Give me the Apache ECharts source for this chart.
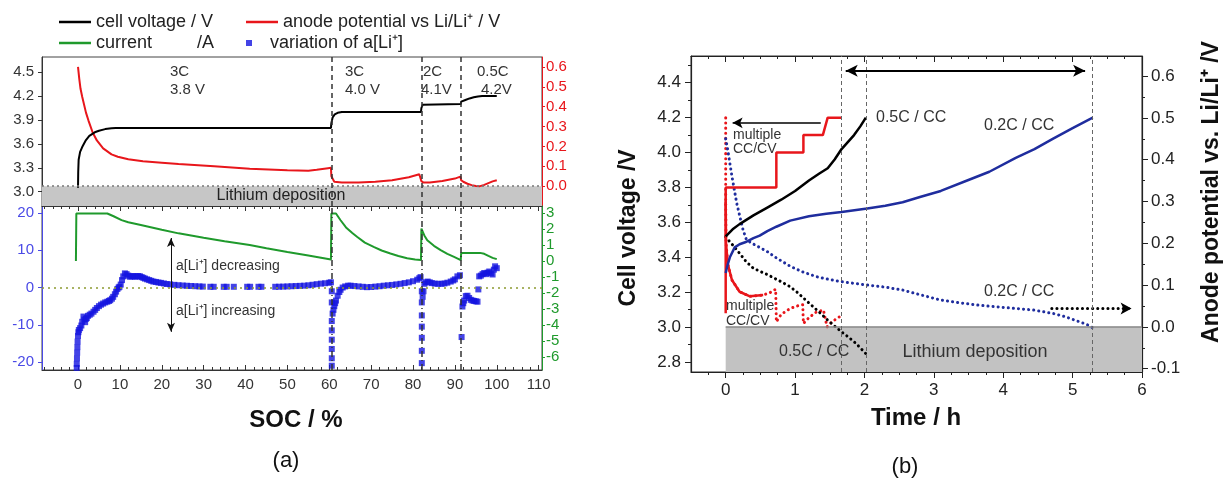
<!DOCTYPE html>
<html><head><meta charset="utf-8">
<script src="https://cdn.jsdelivr.net/npm/echarts@6/dist/echarts.min.js"></script>
<style>html,body{margin:0;padding:0;background:#fff}#c{width:1230px;height:479px}</style>
</head><body><div id="c"></div>
<script>
// ---------------- Panel (a) data ----------------
const socTicks = [0, 10, 20, 30, 40, 50, 60, 70, 80, 90, 100, 110];
const voltTicksA = [3.0, 3.3, 3.6, 3.9, 4.2, 4.5];
const anodeTicksA = [0.0, 0.1, 0.2, 0.3, 0.4, 0.5, 0.6];
const aLiTicks = [-20, -10, 0, 10, 20];
const currentTicks = [-6, -5, -4, -3, -2, -1, 0, 1, 2, 3];
const stageBoundsSoc = [60.5, 82, 91.5];

const cellSoc  = [0, 0.05, 0.15, 0.5, 1, 1.8, 2.7, 4, 5, 6.5, 8, 9, 60.4, 60.5, 60.8, 61.3, 62, 63, 81.9, 82, 82.3, 82.6, 91.4, 91.5, 92.5, 93.5, 94.5, 95.5, 96.5, 100];
const cellVolt = [3.05, 3.25, 3.4, 3.5, 3.56, 3.64, 3.7, 3.745, 3.765, 3.785, 3.797, 3.8, 3.8, 3.86, 3.93, 3.97, 3.99, 4.0, 4.0, 4.05, 4.09, 4.1, 4.1, 4.13, 4.15, 4.17, 4.185, 4.195, 4.2, 4.2];

const anodeSoc = [0, 0.3, 0.6, 1, 1.9, 2.5, 3.5, 4.5, 6, 8, 9.5, 12, 15.5, 20, 24, 32.5, 41, 50, 55, 57, 59.7, 60.4, 60.5, 61.2, 63, 67, 71, 75, 79, 81.5, 81.8, 82, 82.5, 84, 87, 90, 91.3, 91.5, 92, 93, 94, 95, 96, 97, 98, 99, 100];
const anodePot = [0.6, 0.54, 0.49, 0.45, 0.37, 0.33, 0.27, 0.23, 0.19, 0.16, 0.148, 0.135, 0.125, 0.118, 0.112, 0.1, 0.088, 0.08, 0.078, 0.082, 0.09, 0.092, 0.05, 0.022, 0.018, 0.018, 0.022, 0.03, 0.045, 0.06, 0.062, 0.025, 0.018, 0.018, 0.026, 0.038, 0.048, 0.03, 0.022, 0.012, 0.005, 0.001, 0.0, 0.006, 0.015, 0.024, 0.03];

const currSoc = [-0.5, -0.4, 7, 8.5, 10.4, 12, 15, 20, 24, 30, 35, 41, 45, 50, 55, 60.4, 60.5, 61.6, 62.7, 64, 65.5, 66.7, 68.5, 70.6, 72.5, 74.6, 76.5, 78.6, 80.5, 81.9, 82.0, 82.7, 83.4, 85, 86.6, 88.2, 89.8, 91.4, 91.5, 96, 97, 98, 99, 100];
const currA   = [0, 2.97, 2.97, 2.8, 2.56, 2.42, 2.25, 1.96, 1.73, 1.46, 1.24, 1.0, 0.8, 0.57, 0.35, 0.1, 2.97, 2.97, 2.55, 2.1, 1.75, 1.5, 1.15, 0.88, 0.66, 0.47, 0.32, 0.18, 0.1, 0.06, 2.03, 1.6, 1.3, 0.95, 0.68, 0.45, 0.26, 0.06, 0.51, 0.51, 0.45, 0.32, 0.2, 0.12];

const aLiSoc = [
  -0.3, -0.3, -0.25, -0.2, -0.15, -0.1, 0, 0.1, 0.2, 0.5, 0.8, 1.0, 1.3, 1.5, 1.7, 1.9, 2.1, 2.4, 2.8, 3.2, 3.7, 4.1, 4.5, 5.0, 5.5, 6.0, 6.5, 7.0, 7.4, 7.7, 8.1, 8.4, 8.8, 9.1, 9.4, 9.7, 9.9, 10.2, 10.5, 10.8,
  11.2, 11.6, 12.0, 12.4, 12.8, 13.2, 13.6, 14.0, 14.4, 14.8, 15.2, 15.6, 16.0, 16.5, 17.0, 17.5, 18.0, 18.6, 19.2, 19.8, 20.5, 21.2, 22.0, 23.0, 24.0, 25.0, 26.0, 27.0, 28.0, 29.0, 29.8,
  31.6, 32.4, 34.8, 35.5, 37.2, 40.4, 41.1, 43.1, 43.8,
  47.1, 48, 49, 50, 51, 52, 53, 54, 55, 56, 57, 58, 59, 60, 60.4,
  60.6, 60.6, 60.6, 60.6, 60.6, 60.6, 60.6, 60.6,
  60.8, 61.0, 61.2, 61.4, 61.6, 62.0, 62.4, 62.7, 63.2, 63.8, 64.5, 65.1, 66, 67, 68, 69, 70, 71, 72, 73, 74, 75, 76, 77, 78, 79, 80, 81, 81.5, 81.8,
  82.1, 82.1, 82.1, 82.1, 82.1, 82.1, 82.1,
  82.3, 82.5, 82.7, 83.0, 83.5, 84, 84.5, 85.2, 86, 86.8, 87.5, 88.2, 89, 89.6, 90, 90.6, 91.2,
  91.6, 91.8, 92.0, 92.2, 92.6, 93.0, 93.4, 93.8, 94.2, 94.6, 95.0, 95.4, 95.6, 95.8, 96.2, 96.6, 97.0, 97.4, 97.8, 98.2, 98.6, 99.0, 99.3, 99.6, 100
];
const aLiVar = [
  -21.6, -20.5, -19, -17.5, -16, -14.5, -13, -12, -11.4, -10.9, -10.2, -9.2, -7.8, -8.6, -9.3, -8.4, -8.2, -7.6, -7.3, -7.0, -6.5, -6.0, -5.5, -5.0, -4.6, -4.3, -4.0, -3.8, -3.6, -3.4, -3.0, -2.5, -1.8, -1.1, -0.4, 0, 0.2, 0.8, 2.0, 3.0,
  3.8, 3.6, 3.2, 2.9, 3.0, 3.1, 2.9, 3.0, 3.1, 3.0, 2.8, 2.6, 2.4, 2.2, 2.0, 1.8, 1.6, 1.5, 1.35, 1.25, 1.1, 0.95, 0.85, 0.72, 0.62, 0.55, 0.48, 0.42, 0.36, 0.3, 0.25,
  0.2, 0.2, 0.2, 0.2, 0.2, 0.2, 0.2, 0.2, 0.2,
  0.2, 0.22, 0.25, 0.3, 0.35, 0.4, 0.45, 0.5, 0.6, 0.75, 0.9, 1.05, 1.15, 1.3, 1.4,
  -1, -4, -9, -11.5, -14, -16.5, -19, -21,
  -7, -6, -5, -4.2, -3.5, -2.2, -1.2, -0.6, 0, 0.3, 0.5, 0.5, 0.4, 0.3, 0.2, 0.1, 0.15, 0.25, 0.35, 0.5, 0.6, 0.7, 0.85, 1.0, 1.2, 1.4, 1.7, 2.1, 2.5, 2.8,
  -1, -4, -7.5, -10.5, -13.5, -17, -20.3,
  -2.5, -1, 1.0, 1.4, 1.6, 1.4, 1.2, 1.05, 1.0, 1.0, 1.1, 1.3, 1.6, 1.9, 2.2, 3.0, 3.3,
  -13.3, -5.1, -4.2, -3.5, -2.3, -2.2, -2.8, -3.3, -3.5, -3.6, -3.7, -3.8, -0.5, 3.0, 3.2, 3.6, 3.9, 3.6, 4.0, 4.3, 3.8, 3.5, 4.8, 5.7, 5.2
];

// ---------------- Panel (b) data ----------------
const timeTicks = [0, 1, 2, 3, 4, 5, 6];
const voltTicksB = [2.8, 3.0, 3.2, 3.4, 3.6, 3.8, 4.0, 4.2, 4.4];
const anodeTicksB = [-0.1, 0.0, 0.1, 0.2, 0.3, 0.4, 0.5, 0.6];
const markTimesB = [1.67, 2.03, 5.29];

const stepT = [0, 0, 0.73, 0.73, 1.12, 1.12, 1.40, 1.47, 1.67];
const stepV = [3.08, 3.8, 3.8, 4.0, 4.0, 4.1, 4.1, 4.2, 4.2];

const cc05T = [0, 0.1, 0.2, 0.4, 0.6, 0.8, 1.0, 1.2, 1.35, 1.47, 1.57, 1.67, 1.76, 1.85, 1.94, 2.02];
const cc05V = [3.52, 3.56, 3.59, 3.64, 3.685, 3.73, 3.78, 3.84, 3.88, 3.91, 3.96, 4.02, 4.06, 4.1, 4.15, 4.2];

const cc02T = [0, 0.03, 0.06, 0.13, 0.2, 0.28, 0.4, 0.49, 0.6, 0.73, 0.93, 1.2, 1.45, 1.67, 2.04, 2.3, 2.55, 2.8, 3.1, 3.48, 3.8, 4.18, 4.45, 4.72, 5.0, 5.29];
const cc02V = [3.31, 3.36, 3.40, 3.457, 3.475, 3.486, 3.51, 3.524, 3.55, 3.575, 3.61, 3.635, 3.65, 3.66, 3.68, 3.695, 3.715, 3.745, 3.78, 3.84, 3.89, 3.97, 4.02, 4.08, 4.14, 4.2];

const anodeStepT = [0, 0, 0.005, 0.03, 0.09, 0.2, 0.35, 0.54, 0.64, 0.72, 0.73, 0.8, 0.93, 1.03, 1.11, 1.12, 1.2, 1.31, 1.41, 1.46, 1.52, 1.6, 1.65];
const anodeStepV = [0.5, 0.3, 0.2, 0.15, 0.112, 0.084, 0.073, 0.076, 0.082, 0.09, 0.012, 0.03, 0.044, 0.05, 0.053, 0.008, 0.022, 0.036, 0.04, 0.0, 0.01, 0.02, 0.025];

const anode05T = [0, 0.1, 0.2, 0.3, 0.4, 0.6, 0.8, 0.93, 1.05, 1.2, 1.35, 1.47, 1.57, 1.67, 1.78, 1.88, 1.95, 2.02];
const anode05V = [0.215, 0.196, 0.176, 0.155, 0.14, 0.125, 0.108, 0.096, 0.08, 0.057, 0.035, 0.016, 0.002, -0.012, -0.026, -0.04, -0.052, -0.064];

const anode02T = [0, 0.03, 0.09, 0.16, 0.25, 0.3, 0.4, 0.49, 0.6, 0.73, 0.93, 1.1, 1.31, 1.5, 1.67, 2.04, 2.3, 2.55, 2.8, 3.1, 3.4, 3.64, 3.9, 4.18, 4.45, 4.72, 4.9, 5.05, 5.2, 5.29];
const anode02V = [0.45, 0.423, 0.36, 0.295, 0.232, 0.208, 0.198, 0.19, 0.18, 0.165, 0.145, 0.132, 0.12, 0.113, 0.108, 0.1, 0.095, 0.088, 0.077, 0.064, 0.057, 0.052, 0.048, 0.044, 0.04, 0.032, 0.024, 0.015, 0.006, -0.002];

// ---------------- axis ranges ----------------
const aX = [-8.6, 110.8], aV = [2.82, 4.69], aR = [-0.1, 0.65], aB = [-22.15, 21.9], aG = [-6.81, 3.44];
const bX = [-0.5, 6.0], bV = [2.743, 4.553], bR = [-0.108, 0.648];

const zip = (xs, ys) => xs.map((x, i) => [x, ys[i]]);
const FONT = 'Liberation Sans, Arial, sans-serif';
const RED = '#e8161b', GREEN = '#1f9a2c', BLUE = '#1414e0', NAVY = '#1f2d9e';

const chart = echarts.init(document.getElementById('c'), null, {renderer: 'canvas'});

function valAxis(o) {
  return Object.assign({type: 'value', scale: true, splitLine: {show: false}, axisLine: {show: true, onZero: false}}, o);
}
const f1 = v => v.toFixed(1);
const f0 = v => String(Math.round(v));

const legendBase = {padding: 0, itemWidth: 32, itemHeight: 2.5, selectedMode: false, icon: 'rect',
  textStyle: {fontSize: 18, color: '#222', fontFamily: FONT}};

function txt(x, y, text, size, opts) {
  opts = opts || {};
  return {type: 'text', x: x, y: y, rotation: opts.rot || 0, z: 100,
    style: {text: text, fill: opts.color || '#222', font: (opts.bold ? 'bold ' : '') + size + 'px ' + FONT,
      textAlign: opts.align || 'left', textVerticalAlign: 'middle', align: opts.align || 'left', verticalAlign: 'middle'}};
}

const vDash = (vals, color, dash, width) => ({silent: true, symbol: 'none', label: {show: false},
  lineStyle: {color: color, type: dash, width: width}, data: vals.map(v => ({xAxis: v}))});

const option = {
  animation: false,
  backgroundColor: '#fff',
  legend: [
    Object.assign({}, legendBase, {left: 59, top: 13, data: ['cell voltage / V']}),
    Object.assign({}, legendBase, {left: 246, top: 13, data: ['anode potential vs Li/Li\u207A / V']}),
    Object.assign({}, legendBase, {left: 59, top: 34, data: ['current         /A']}),
    Object.assign({}, legendBase, {left: 246, top: 34, itemHeight: 6, icon: 'path://M0,0h10v10h-10z',
      data: ['variation of a[Li\u207A]']})
  ],
  grid: [
    {left: 42, top: 57, width: 500, height: 149, show: true, borderColor: '#444', borderWidth: 1, backgroundColor: 'transparent'},
    {left: 42, top: 206, width: 500, height: 164, show: true, borderColor: '#444', borderWidth: 1, backgroundColor: 'transparent'},
    {left: 691, top: 56, width: 451, height: 316, show: true, borderColor: '#333', borderWidth: 1, backgroundColor: 'transparent'}
  ],
  xAxis: [
    valAxis({gridIndex: 0, min: aX[0], max: aX[1], axisLine: {show: false, onZero: false}, axisTick: {show: false}, axisLabel: {show: false}}),
    valAxis({gridIndex: 1, min: aX[0], max: aX[1], position: 'bottom', splitNumber: 12,
      axisLine: {show: true, onZero: false, lineStyle: {color: '#333'}},
      axisTick: {show: true, inside: true, length: 5, customValues: socTicks, lineStyle: {color: '#333'}},
      minorTick: {show: true, splitNumber: 5, length: 3, lineStyle: {color: '#333'}},
      axisLabel: {customValues: socTicks, formatter: f0, fontSize: 15, color: '#333', margin: 7, fontFamily: FONT}}),
    valAxis({gridIndex: 1, min: aX[0], max: aX[1], position: 'top', splitNumber: 12,
      axisLine: {show: true, onZero: false, lineStyle: {color: '#333'}},
      axisTick: {show: true, inside: true, length: 5, customValues: socTicks, lineStyle: {color: '#333'}},
      minorTick: {show: true, splitNumber: 5, length: 3, lineStyle: {color: '#333'}},
      axisLabel: {show: false}}),
    valAxis({gridIndex: 2, min: bX[0], max: bX[1], position: 'bottom', splitNumber: 7,
      axisLine: {show: true, onZero: false, lineStyle: {color: '#222', width: 1.2}},
      axisTick: {show: true, inside: false, length: 6, customValues: timeTicks, lineStyle: {color: '#222'}},
      minorTick: {show: true, splitNumber: 4, length: 3, lineStyle: {color: '#222'}},
      axisLabel: {customValues: timeTicks, formatter: f0, fontSize: 17, color: '#222', margin: 10, fontFamily: FONT}}),
    valAxis({gridIndex: 2, min: bX[0], max: bX[1], position: 'top', splitNumber: 7,
      axisLine: {show: true, onZero: false, lineStyle: {color: '#222', width: 1.2}},
      axisTick: {show: true, inside: true, length: 6, customValues: timeTicks, lineStyle: {color: '#222'}},
      minorTick: {show: true, splitNumber: 4, length: 3, lineStyle: {color: '#222'}},
      axisLabel: {show: false}})
  ],
  yAxis: [
    valAxis({gridIndex: 0, min: aV[0], max: aV[1], position: 'left',
      axisLine: {show: true, onZero: false, lineStyle: {color: '#333'}},
      axisTick: {show: true, length: 4, customValues: voltTicksA, lineStyle: {color: '#333'}},
      axisLabel: {customValues: voltTicksA, formatter: f1, fontSize: 15, color: '#333', margin: 8, fontFamily: FONT}}),
    valAxis({gridIndex: 0, min: aR[0], max: aR[1], position: 'right',
      axisLine: {show: true, onZero: false, lineStyle: {color: RED}},
      axisTick: {show: true, length: 3, customValues: anodeTicksA, lineStyle: {color: RED}},
      axisLabel: {customValues: anodeTicksA, formatter: f1, fontSize: 15, color: RED, margin: 4, fontFamily: FONT}}),
    valAxis({gridIndex: 1, min: aB[0], max: aB[1], position: 'left',
      axisLine: {show: true, onZero: false, lineStyle: {color: '#4a4ae6'}},
      axisTick: {show: true, length: 4, customValues: aLiTicks, lineStyle: {color: '#4a4ae6'}},
      axisLabel: {customValues: aLiTicks, formatter: f0, fontSize: 15, color: '#4a4ae6', margin: 8, fontFamily: FONT}}),
    valAxis({gridIndex: 1, min: aG[0], max: aG[1], position: 'right',
      axisLine: {show: true, onZero: false, lineStyle: {color: GREEN}},
      axisTick: {show: true, length: 3, customValues: currentTicks, lineStyle: {color: GREEN}},
      axisLabel: {customValues: currentTicks, formatter: f0, fontSize: 15, color: GREEN, margin: 4, fontFamily: FONT, lineHeight: 15}}),
    valAxis({gridIndex: 2, min: bV[0], max: bV[1], position: 'left', splitNumber: 9,
      axisLine: {show: true, onZero: false, lineStyle: {color: '#222', width: 1.2}},
      axisTick: {show: true, length: 6, customValues: voltTicksB, lineStyle: {color: '#222'}},
      minorTick: {show: true, splitNumber: 2, length: 3, lineStyle: {color: '#222'}},
      axisLabel: {customValues: voltTicksB, formatter: f1, fontSize: 17, color: '#222', margin: 10, fontFamily: FONT}}),
    valAxis({gridIndex: 2, min: bR[0], max: bR[1], position: 'right', splitNumber: 8,
      axisLine: {show: true, onZero: false, lineStyle: {color: '#222', width: 1.2}},
      axisTick: {show: true, length: 6, customValues: anodeTicksB, lineStyle: {color: '#222'}},
      minorTick: {show: true, splitNumber: 2, length: 3, lineStyle: {color: '#222'}},
      axisLabel: {customValues: anodeTicksB, formatter: f1, fontSize: 17, color: '#222', margin: 9, fontFamily: FONT}})
  ],
  series: [
    // ---- panel (a), top ----
    {name: 'anode potential vs Li/Li\u207A / V', type: 'line', xAxisIndex: 0, yAxisIndex: 1, showSymbol: false, symbol: 'none',
      data: zip(anodeSoc, anodePot), lineStyle: {color: RED, width: 2}, itemStyle: {color: RED},
      markArea: {silent: true, itemStyle: {color: '#c6c6c6'}, data: [[{coord: [aX[0], aR[0]]}, {coord: [aX[1], 0]}]]},
      markLine: {silent: true, symbol: 'none', label: {show: false}, lineStyle: {color: '#777', type: [2, 3], width: 1.5},
        data: [{yAxis: 0}]}},
    {name: 'cell voltage / V', type: 'line', xAxisIndex: 0, yAxisIndex: 0, showSymbol: false, symbol: 'none',
      data: zip(cellSoc, cellVolt), lineStyle: {color: '#000', width: 2}, itemStyle: {color: '#000'},
      markLine: vDash(stageBoundsSoc, '#333', [5, 4], 1.5)},
    // ---- panel (a), bottom ----
    {name: 'current         /A', type: 'line', xAxisIndex: 1, yAxisIndex: 3, showSymbol: false, symbol: 'none',
      data: zip(currSoc, currA), lineStyle: {color: GREEN, width: 2}, itemStyle: {color: GREEN},
      markLine: vDash(stageBoundsSoc, '#333', [6, 3, 1, 3], 1.5)},
    {name: 'variation of a[Li\u207A]', type: 'scatter', xAxisIndex: 1, yAxisIndex: 2, symbol: 'rect', symbolSize: 6,
      data: zip(aLiSoc, aLiVar), itemStyle: {color: BLUE},
      markLine: {silent: true, symbol: 'none', label: {show: false}, data: [
        {yAxis: 0, lineStyle: {color: '#8c9a30', type: [2, 4], width: 1.5}},
        [{coord: [22.2, 13.3], symbol: 'arrow', symbolSize: [6, 9]}, {coord: [22.2, -11.9], symbol: 'arrow', symbolSize: [6, 9],
          lineStyle: {color: '#111', type: 'solid', width: 1}}]
      ]}},
    // ---- panel (b) ----
    {name: 'b anode multiple CC/CV', type: 'line', xAxisIndex: 3, yAxisIndex: 5, showSymbol: false, symbol: 'none',
      data: zip(anodeStepT, anodeStepV), lineStyle: {color: RED, width: 3, type: [0.1, 5], cap: 'round'},
      markArea: {silent: true, itemStyle: {color: '#c2c2c2'}, data: [[{coord: [0, bR[0]]}, {coord: [bX[1], 0]}]]},
      markLine: {silent: true, symbol: 'none', label: {show: false}, lineStyle: {color: '#888', type: 'solid', width: 1.5},
        data: [[{coord: [0, 0]}, {coord: [bX[1], 0]}]]}},
    {name: 'b anode multiple CC/CV head', type: 'line', xAxisIndex: 3, yAxisIndex: 5, showSymbol: false, symbol: 'none',
      data: zip(anodeStepT.slice(1, 8), anodeStepV.slice(1, 8)), lineStyle: {color: RED, width: 2.5}},
    {name: 'b anode 0.5C', type: 'line', xAxisIndex: 3, yAxisIndex: 5, showSymbol: false, symbol: 'none',
      data: zip(anode05T, anode05V), lineStyle: {color: '#000', width: 3, type: [0.1, 5], cap: 'round'}},
    {name: 'b anode 0.2C', type: 'line', xAxisIndex: 3, yAxisIndex: 5, showSymbol: false, symbol: 'none',
      data: zip(anode02T, anode02V), lineStyle: {color: NAVY, width: 3, type: [0.1, 5], cap: 'round'},
      markLine: {silent: true, symbol: 'none', label: {show: false}, data: [
        [{coord: [4.7, 0.044], symbol: 'none'}, {coord: [5.85, 0.044], symbol: 'arrow', symbolSize: [9, 11],
          lineStyle: {color: '#000', type: [0.1, 5], cap: 'round', width: 3}}]
      ]}},
    {name: 'b cell multiple CC/CV', type: 'line', xAxisIndex: 3, yAxisIndex: 4, showSymbol: false, symbol: 'none',
      data: zip(stepT, stepV), lineStyle: {color: RED, width: 2.5}},
    {name: 'b cell 0.5C', type: 'line', xAxisIndex: 3, yAxisIndex: 4, showSymbol: false, symbol: 'none',
      data: zip(cc05T, cc05V), lineStyle: {color: '#000', width: 2.5},
      markLine: {silent: true, symbol: 'none', label: {show: false}, data: [
        ...markTimesB.map(v => ({xAxis: v, lineStyle: {color: '#666', type: [4, 3], width: 1}})),
        [{coord: [1.73, 4.469], symbol: 'arrow', symbolSize: [9, 12]}, {coord: [5.18, 4.469], symbol: 'arrow', symbolSize: [9, 12],
          lineStyle: {color: '#000', type: 'solid', width: 2}}],
        [{coord: [0.1, 4.17], symbol: 'arrow', symbolSize: [8, 10]}, {coord: [1.37, 4.17], symbol: 'none',
          lineStyle: {color: '#000', type: 'solid', width: 1.5}}]
      ]}},
    {name: 'b cell 0.2C', type: 'line', xAxisIndex: 3, yAxisIndex: 4, showSymbol: false, symbol: 'none',
      data: zip(cc02T, cc02V), lineStyle: {color: NAVY, width: 2.5}}
  ],
  graphic: [
    txt(170, 72, '3C', 15, {color: '#333'}), txt(170, 90, '3.8 V', 15, {color: '#333'}),
    txt(345, 72, '3C', 15, {color: '#333'}), txt(345, 90, '4.0 V', 15, {color: '#333'}),
    txt(423, 72, '2C', 15, {color: '#333'}), txt(421, 90, '4.1V', 15, {color: '#333'}),
    txt(477, 72, '0.5C', 15, {color: '#333'}), txt(481, 90, '4.2V', 15, {color: '#333'}),
    txt(281, 196, 'Lithium deposition', 16, {align: 'center', color: '#222'}),
    txt(176, 266, 'a[Li\u207A] decreasing', 14, {color: '#333'}),
    txt(176, 311, 'a[Li\u207A] increasing', 14, {color: '#333'}),
    txt(296, 420, 'SOC / %', 24, {align: 'center', bold: true, color: '#111'}),
    txt(286, 461, '(a)', 22, {align: 'center', color: '#111'}),

    txt(876, 118, '0.5C / CC', 16, {color: '#333'}),
    txt(984, 126, '0.2C / CC', 16, {color: '#333'}),
    txt(733, 135, 'multiple', 14, {color: '#333'}), txt(733, 149, 'CC/CV', 14, {color: '#333'}),
    txt(726, 306, 'multiple', 14, {color: '#333'}), txt(726, 321, 'CC/CV', 14, {color: '#333'}),
    txt(984, 292, '0.2C / CC', 16, {color: '#333'}),
    txt(779, 352, '0.5C / CC', 16, {color: '#333'}),
    txt(975, 352, 'Lithium deposition', 18, {align: 'center', color: '#333'}),
    txt(629, 228, 'Cell voltage /V', 23, {align: 'center', bold: true, rot: Math.PI / 2, color: '#111'}),
    txt(1212, 192, 'Anode potential vs. Li/Li\u207A /V', 23, {align: 'center', bold: true, rot: Math.PI / 2, color: '#111'}),
    txt(916, 418, 'Time / h', 24, {align: 'center', bold: true, color: '#111'}),
    txt(905, 467, '(b)', 22, {align: 'center', color: '#111'})
  ]
};
chart.setOption(option);
</script>
</body></html>
